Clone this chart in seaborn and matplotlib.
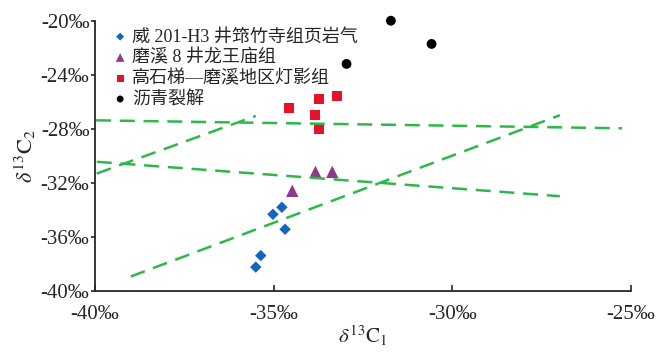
import pandas as pd
import matplotlib
matplotlib.use("Agg")
import matplotlib.pyplot as plt
import seaborn as sns

# data (delta13C1, delta13C2 in permil)
wei_c1 = [-35.50, -35.36, -35.02, -34.77, -34.68]
wei_c2 = [-38.25, -37.40, -34.34, -33.82, -35.45]
moxi_c1 = [-34.48, -33.83, -33.36]
moxi_c2 = [-32.60, -31.20, -31.20]
gst_c1 = [-34.58, -33.74, -33.22, -33.84, -33.73]
gst_c2 = [-26.44, -25.81, -25.57, -26.96, -28.04]
bit_c1 = [-31.72, -30.58, -32.96]
bit_c2 = [-20.00, -21.72, -23.20]

# dashed reference lines (start / end)
line_a = ([-39.97, -25.25], [-27.38, -27.97])
line_b = ([-39.95, -35.50], [-31.32, -27.05])
line_c = ([-39.95, -26.99], [-30.45, -33.00])
line_d = ([-39.00, -26.99], [-38.95, -27.00])

labels = ["威 201-H3 井筇竹寺组页岩气", "磨溪 8 井龙王庙组",
          "高石梯—磨溪地区灯影组", "沥青裂解"]
xticks = [-40, -35, -30, -25]
yticks = [-40, -36, -32, -28, -24, -20]

sns.set_style("ticks")
plt.rcParams['font.family'] = ['Liberation Serif', 'Noto Sans CJK SC']
plt.rcParams['mathtext.fontset'] = 'stix'

fig = plt.figure(figsize=(6.67, 3.54), dpi=100)
ax = fig.add_axes([0.1424, 0.1788, 0.8036, 0.7627])

for xs, ys in [line_a, line_b, line_c, line_d]:
    sns.lineplot(x=xs, y=ys, ax=ax, color="#2db84a", lw=1.8,
                 linestyle=(0, (6, 3.5)), sort=False)

groups = [(wei_c1, wei_c2, "D", "#1565c0", 34),
          (moxi_c1, moxi_c2, "^", "#8e3a8c", 80),
          (gst_c1, gst_c2, "s", "#e8102a", 50),
          (bit_c1, bit_c2, "o", "black", 50)]
for (xs, ys, m, c, s), lab in zip(groups, labels):
    sns.scatterplot(x=xs, y=ys, ax=ax, marker=m, color=c, s=s,
                    edgecolor="none", label=lab, clip_on=False)

ax.set_xlim(-40, -25)
ax.set_ylim(-40, -20)
ax.set_xticks(xticks)
ax.set_yticks(yticks)
ax.set_xticklabels([f"{t}‰" for t in xticks], fontsize=15)
ax.set_yticklabels([f"{t}‰" for t in yticks], fontsize=15)
ax.tick_params(axis="x", direction="in", length=4, width=1.2, pad=10)
ax.tick_params(axis="y", direction="out", length=3, width=1.2, pad=1)
for sp in ["top", "right"]:
    ax.spines[sp].set_visible(False)
for sp in ["left", "bottom"]:
    ax.spines[sp].set_linewidth(1.3)

ax.set_xlabel(r"$\delta^{13}\mathrm{C}_1$", fontsize=15, labelpad=0)
ax.set_ylabel(r"$\delta^{13}\mathrm{C}_2$", fontsize=16, labelpad=2)

ax.legend(loc="upper left", frameon=False, fontsize=13, handletextpad=0.05,
          labelspacing=0.2, borderaxespad=0, borderpad=0.2, handlelength=1.2,
          markerscale=0.7, bbox_to_anchor=(0.02, 0.985))

fig.savefig("out.png", dpi=100)
